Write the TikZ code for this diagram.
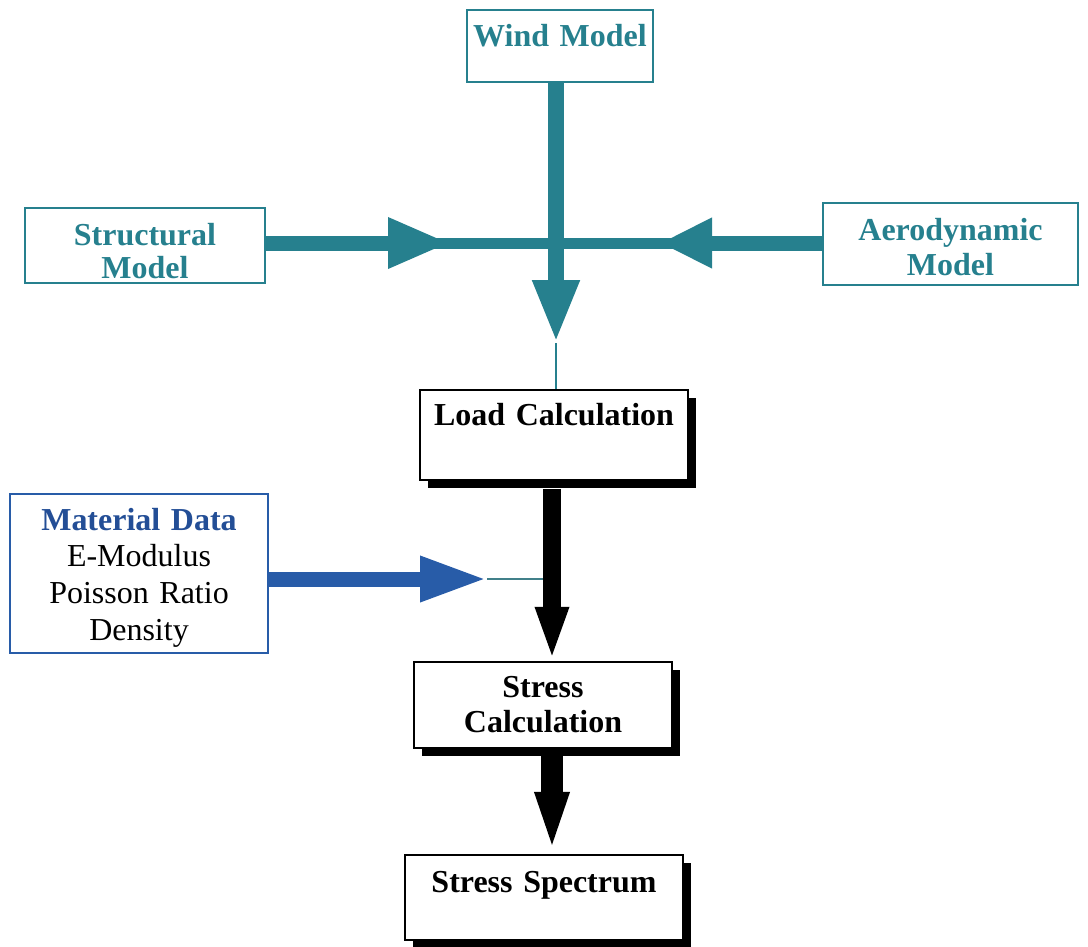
\documentclass[tikz,border=0pt]{standalone}
\usepackage{fontspec}
\setmainfont{Liberation Serif}
\usetikzlibrary{arrows.meta,shadows}
\definecolor{windteal}{RGB}{38,128,142}
\definecolor{matblue}{RGB}{40,92,168}
\definecolor{mattext}{RGB}{35,78,150}
\begin{document}
\begin{tikzpicture}[
			model/.style={
				draw=windteal,
				line width=0.6pt,
				fill=white,
				inner sep=0pt,
				align=center,
				text=windteal,
				font=\fontsize{9.1}{9.6}\selectfont\bfseries
			},
			calc/.style={
				draw=black,
				line width=0.7pt,
				fill=white,
				inner sep=0pt,
				align=center,
				font=\fontsize{9.1}{10.2}\selectfont\bfseries,
				general shadow={fill=black, shadow xshift=0.08cm, shadow yshift=-0.08cm}
			},
			tealshaft/.style={draw=windteal, line width=0.15cm},
			blackshaft/.style={draw=black, line width=0.18cm}
			]
			\useasboundingbox (0,0) rectangle (10.88,-9.46);
			%---------------- MODELS ----------------
			\node[model, text width=1.86cm, text height=0.36cm, text depth=0.36cm] (wind) at (5.60,-0.46) {Wind Model};
			\node[model, text width=2.40cm, text height=0.37cm, text depth=0.38cm, font=\fontsize{9.1}{9.4}\selectfont\bfseries] (struct) at (1.45,-2.455) {Structural\\Model};
			\node[model, text width=2.55cm, text height=0.37cm, text depth=0.45cm, font=\fontsize{9.1}{10}\selectfont\bfseries] (aero) at (9.505,-2.44) {Aerodynamic\\Model};
			%---------------- CALCULATIONS ----------------
			\node[calc, text width=2.68cm, text height=0.35cm, text depth=0.55cm] (load) at (5.54,-4.35) {Load Calculation};
			\node[calc, text width=2.58cm, text height=0.35cm, text depth=0.51cm] (stress) at (5.43,-7.05) {Stress\\Calculation};
			\node[calc, text width=2.78cm, text height=0.37cm, text depth=0.48cm] (spectrum) at (5.44,-8.975) {Stress Spectrum};
			%---------------- MATERIAL ----------------
			\node[draw=matblue, line width=0.8pt, fill=white, inner sep=0pt, align=center,
				font=\fontsize{9.1}{10.5}\selectfont,
				text width=2.58cm, text height=0.36cm, text depth=1.23cm] (material) at (1.39,-5.735)
				{\textcolor{mattext}{\bfseries Material Data}\\E-Modulus\\Poisson Ratio\\Density};
			%---------------- ARROWS ----------------
			\coordinate (hub) at (5.56,-2.43);
			\coordinate (ltip) at (4.50,-2.43);
			\coordinate (rtip) at (6.60,-2.43);
			\coordinate (wtip) at (5.56,-3.43);
			\coordinate (mtip) at (4.87,-5.79);
			\coordinate (ctr) at (5.52,0);
			\draw[windteal, line width=0.11cm] (struct.east |- hub) -- (aero.west |- hub);
			\draw[tealshaft, line width=0.16cm, -{Triangle[width=0.43cm,length=0.63cm]}] (wind.south -| wtip) -- (wtip);
			\draw[windteal, line width=0.8pt] (wtip) -- (wtip |- load.north);
			\draw[tealshaft, -{Triangle[width=0.47cm,length=0.62cm]}] (struct.east |- hub) -- (ltip);
			\draw[tealshaft, -{Triangle[width=0.47cm,length=0.52cm]}] (aero.west |- hub) -- (rtip);
			\draw[matblue, line width=0.15cm, -{Triangle[width=0.42cm,length=0.67cm]}] (material.east |- mtip) -- (mtip);
			\draw[windteal!70!gray, line width=0.6pt] (mtip) -- (mtip -| load.south);
			\draw[blackshaft, -{Triangle[width=0.30cm,length=0.54cm]}] (load.south -| ctr) ++(0,-0.08) -- (stress.north -| ctr);
			\draw[blackshaft, line width=0.22cm, -{Triangle[width=0.30cm,length=0.62cm]}] (stress.south -| ctr) ++(0,-0.07) -- (spectrum.north -| ctr);
\end{tikzpicture}
\end{document}
